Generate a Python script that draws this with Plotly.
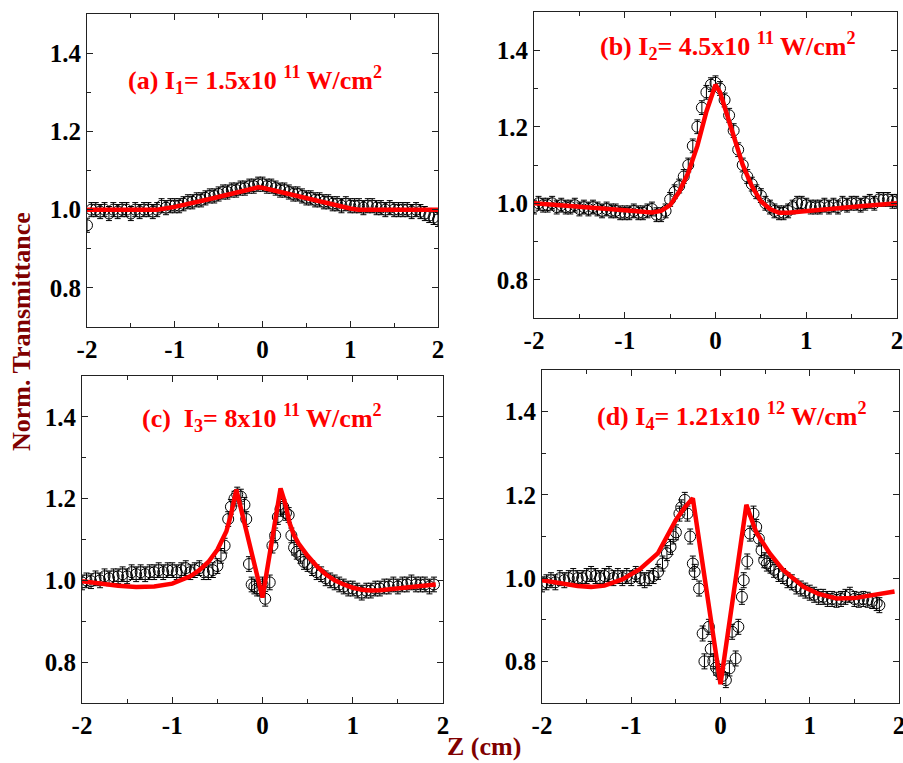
import plotly.graph_objects as go

# ---------------- data ----------------
# (a) I1 = 1.5e11 W/cm^2
za = [-2.00, -1.95, -1.90, -1.85, -1.80, -1.75, -1.70, -1.65, -1.60, -1.55, -1.50, -1.45, -1.40, -1.35, -1.30, -1.25,
      -1.20, -1.15, -1.10, -1.05, -1.00, -0.95, -0.90, -0.85, -0.80, -0.75, -0.70, -0.65, -0.60, -0.55, -0.50, -0.45,
      -0.40, -0.35, -0.30, -0.25, -0.20, -0.15, -0.10, -0.05, 0.00, 0.05, 0.10, 0.15, 0.20, 0.25, 0.30, 0.35,
      0.40, 0.45, 0.50, 0.55, 0.60, 0.65, 0.70, 0.75, 0.80, 0.85, 0.90, 0.95, 1.00, 1.05, 1.10, 1.15,
      1.20, 1.25, 1.30, 1.35, 1.40, 1.45, 1.50, 1.55, 1.60, 1.65, 1.70, 1.75, 1.80, 1.85, 1.90, 1.95, 2.00]
ta = [0.960, 1.000, 1.000, 0.995, 1.000, 0.990, 1.000, 0.995, 1.000, 1.000, 0.990, 1.000, 0.995, 1.000, 1.000, 0.995,
      1.000, 1.010, 1.005, 1.010, 1.010, 1.010, 1.015, 1.020, 1.020, 1.025, 1.025, 1.030, 1.035, 1.035, 1.040, 1.045,
      1.045, 1.050, 1.050, 1.055, 1.055, 1.060, 1.060, 1.065, 1.065, 1.060, 1.060, 1.055, 1.050, 1.050, 1.045, 1.040,
      1.040, 1.035, 1.030, 1.030, 1.025, 1.025, 1.020, 1.020, 1.015, 1.015, 1.010, 1.015, 1.010, 1.010, 1.010, 1.005,
      1.010, 1.010, 1.005, 1.005, 1.000, 1.005, 1.000, 1.000, 1.000, 1.000, 0.995, 1.000, 0.995, 0.990, 0.985, 0.980, 0.975]
fza = [-2.0, -1.5, -1.2, -1.0, -0.8, -0.6, -0.4, -0.2, -0.05, 0.0, 0.2, 0.4, 0.6, 0.8, 1.0, 1.1, 1.5, 2.0]
fta = [1.0, 1.0, 1.0, 1.007, 1.016, 1.027, 1.038, 1.050, 1.057, 1.056, 1.045, 1.034, 1.023, 1.013, 1.003, 1.0, 1.0, 1.0]

# (b) I2 = 4.5e11 W/cm^2
zb = za
tb = [0.990, 1.000, 0.995, 0.995, 1.000, 0.990, 0.995, 0.990, 0.990, 0.995, 0.985, 0.990, 0.985, 0.990, 0.985, 0.980,
      0.985, 0.980, 0.980, 0.975, 0.975, 0.975, 0.980, 0.975, 0.975, 0.980, 0.985, 0.970, 0.970, 0.980, 1.010, 1.030,
      1.045, 1.070, 1.100, 1.150, 1.200, 1.250, 1.290, 1.310, 1.315, 1.300, 1.270, 1.230, 1.190, 1.140, 1.100, 1.070,
      1.050, 1.030, 1.020, 1.000, 0.990, 0.980, 0.975, 0.975, 0.980, 0.990, 1.000, 1.000, 0.995, 0.990, 0.990, 0.990,
      0.995, 0.990, 0.995, 0.990, 1.000, 0.995, 1.000, 1.000, 0.995, 1.000, 1.005, 1.000, 1.010, 1.010, 1.010, 1.005, 1.005]
fzb = [-2.0, -1.5, -1.0, -0.7, -0.6, -0.5, -0.4, -0.3, -0.2, -0.1, 0.0, 0.05, 0.1, 0.2, 0.3, 0.4, 0.5, 0.6, 0.7, 0.8,
       1.0, 1.5, 2.0]
ftb = [1.0, 0.992, 0.982, 0.976, 0.980, 0.995, 1.030, 1.080, 1.150, 1.240, 1.310, 1.290, 1.250, 1.170, 1.100, 1.045,
       1.005, 0.985, 0.975, 0.975, 0.980, 0.990, 1.000]

# (c) I3 = 8e11 W/cm^2
zc = [-2.00, -1.95, -1.90, -1.85, -1.80, -1.75, -1.70, -1.65, -1.60, -1.55, -1.50, -1.45, -1.40, -1.35, -1.30, -1.25,
      -1.20, -1.15, -1.10, -1.05, -1.00, -0.95, -0.90, -0.85, -0.80, -0.75, -0.70, -0.65, -0.60, -0.55, -0.50, -0.46,
      -0.42, -0.38, -0.35, -0.31, -0.28, -0.24, -0.20, -0.18, -0.15, -0.12, -0.09, -0.06, -0.03, 0.00, 0.03, 0.08,
      0.11, 0.14, 0.17, 0.20, 0.23, 0.26, 0.29, 0.32, 0.35, 0.38, 0.42, 0.46, 0.50, 0.55, 0.60, 0.65,
      0.70, 0.75, 0.80, 0.85, 0.90, 0.95, 1.00, 1.05, 1.10, 1.15, 1.20, 1.25, 1.30, 1.35, 1.40, 1.45,
      1.50, 1.55, 1.60, 1.65, 1.70, 1.75, 1.80, 1.85, 1.90]
tc = [0.995, 1.000, 0.998, 1.005, 1.000, 1.010, 1.005, 1.010, 1.010, 1.015, 1.010, 1.020, 1.015, 1.020, 1.015, 1.020,
      1.020, 1.025, 1.020, 1.025, 1.025, 1.020, 1.025, 1.030, 1.020, 1.025, 1.030, 1.020, 1.020, 1.025, 1.035, 1.060,
      1.085, 1.150, 1.180, 1.200, 1.210, 1.205, 1.185, 1.150, 1.040, 0.990, 0.985, 0.980, 0.980, 0.990, 0.955, 0.995,
      1.085, 1.110, 1.155, 1.175, 1.180, 1.165, 1.160, 1.110, 1.080, 1.070, 1.060, 1.045, 1.040, 1.030, 1.020, 1.015,
      1.005, 1.000, 0.995, 0.990, 0.985, 0.980, 0.980, 0.975, 0.970, 0.975, 0.975, 0.980, 0.980, 0.985, 0.985, 0.990,
      0.985, 0.990, 0.990, 0.995, 0.990, 0.990, 0.990, 0.985, 0.990]
fzc = [-2.0, -1.8, -1.6, -1.4, -1.2, -1.0, -0.8, -0.7, -0.6, -0.5, -0.4, -0.35, -0.31, -0.29, 0.0, 0.2, 0.25, 0.3,
       0.35, 0.4, 0.5, 0.6, 0.7, 0.8, 0.9, 1.0, 1.1, 1.2, 1.3, 1.4, 1.5, 1.6, 1.7, 1.8, 1.92]
ftc = [0.998, 0.992, 0.987, 0.984, 0.985, 0.992, 1.010, 1.025, 1.045, 1.075, 1.120, 1.160, 1.205, 1.222, 0.958, 1.225,
       1.190, 1.140, 1.110, 1.090, 1.060, 1.035, 1.015, 1.000, 0.990, 0.982, 0.977, 0.975, 0.976, 0.978, 0.980, 0.982,
       0.985, 0.987, 0.990]

# (d) I4 = 1.21e12 W/cm^2
zd = [-2.00, -1.95, -1.90, -1.85, -1.80, -1.75, -1.70, -1.65, -1.60, -1.55, -1.50, -1.45, -1.40, -1.35, -1.30, -1.25,
      -1.20, -1.15, -1.10, -1.05, -1.00, -0.95, -0.90, -0.85, -0.80, -0.75, -0.70, -0.65, -0.60, -0.56, -0.53, -0.50,
      -0.46, -0.44, -0.40, -0.37, -0.34, -0.31, -0.29, -0.24, -0.20, -0.18, -0.13, -0.11, -0.08, -0.05, -0.02, 0.02,
      0.06, 0.10, 0.13, 0.17, 0.20, 0.24, 0.26, 0.30, 0.33, 0.37, 0.40, 0.43, 0.46, 0.49, 0.52, 0.56,
      0.60, 0.65, 0.70, 0.75, 0.80, 0.85, 0.90, 0.95, 1.00, 1.05, 1.10, 1.15, 1.20, 1.25, 1.30, 1.35,
      1.40, 1.45, 1.50, 1.55, 1.60, 1.65, 1.70, 1.75, 1.78]
td = [0.985, 0.990, 0.995, 0.990, 1.000, 0.995, 1.000, 1.005, 1.000, 1.000, 1.005, 1.010, 1.005, 1.000, 1.005, 1.010,
      1.000, 1.005, 1.000, 1.005, 1.000, 1.010, 1.000, 0.995, 1.000, 1.005, 1.015, 1.035, 1.060, 1.075, 1.100, 1.110,
      1.155, 1.170, 1.188, 1.155, 1.100, 1.035, 1.015, 0.975, 0.867, 0.800, 0.883, 0.830, 0.800, 0.785, 0.775, 0.765,
      0.755, 0.783, 0.871, 0.807, 0.883, 0.955, 0.995, 1.040, 1.107, 1.155, 1.123, 1.095, 1.067, 1.043, 1.035, 1.030,
      1.020, 1.010, 1.005, 0.995, 0.990, 0.980, 0.975, 0.970, 0.965, 0.960, 0.955, 0.955, 0.950, 0.950, 0.948, 0.950,
      0.955, 0.960, 0.950, 0.948, 0.950, 0.948, 0.945, 0.940, 0.935]
fzd = [-2.0, -1.8, -1.6, -1.45, -1.3, -1.1, -0.9, -0.7, -0.5, -0.4, -0.31, 0.0, 0.29, 0.4, 0.55, 0.7, 0.93, 1.1,
       1.3, 1.5, 1.7, 1.95]
ftd = [0.995, 0.987, 0.981, 0.979, 0.982, 0.997, 1.022, 1.060, 1.140, 1.170, 1.192, 0.745, 1.176, 1.110, 1.060, 1.020,
       0.979, 0.962, 0.951, 0.952, 0.958, 0.968]

err = 0.018
x_ticks = [-2, -1, 0, 1, 2]
x_text = ["-2", "-1", "0", "1", "2"]
y_ticks = [0.8, 1.0, 1.2, 1.4]
y_text = ["0.8", "1.0", "1.2", "1.4"]

panels = [
    (za, ta, fza, fta, "(a) I<sub>1</sub>= 1.5x10 <sup>11</sup> W/cm<sup>2</sup>"),
    (zb, tb, fzb, ftb, "(b) I<sub>2</sub>= 4.5x10 <sup>11</sup> W/cm<sup>2</sup>"),
    (zc, tc, fzc, ftc, "(c)  I<sub>3</sub>= 8x10 <sup>11</sup> W/cm<sup>2</sup>"),
    (zd, td, fzd, ftd, "(d) I<sub>4</sub>= 1.21x10 <sup>12</sup> W/cm<sup>2</sup>"),
]

# ---------------- layout geometry (pixels) ----------------
W, H = 903, 763
boxes = [  # left, right, top, bottom
    (87, 438, 14, 327),
    (534, 897, 12, 318),
    (82, 443, 376, 703),
    (542, 899, 370, 703),
]
title_pos = [(255, 80), (728, 46), (262, 418), (732, 416)]

FONT = "Liberation Serif, Times New Roman, serif"
fig = go.Figure()
layout = dict(
    template="none",
    width=W, height=H, margin=dict(l=0, r=0, t=0, b=0, pad=0),
    paper_bgcolor="white", plot_bgcolor="white", showlegend=False,
    font=dict(family=FONT, color="black", size=24),
)
annotations = []
for i, (z, t, fz, ft, title) in enumerate(panels):
    n = "" if i == 0 else str(i + 1)
    fig.add_trace(go.Scatter(
        x=z, y=t, mode="markers", xaxis="x" + n, yaxis="y" + n,
        marker=dict(symbol="circle-open", size=11, color="black", line=dict(width=1, color="black")),
        error_y=dict(type="constant", value=err, color="black", thickness=1, width=3),
    ))
    fig.add_trace(go.Scatter(
        x=fz, y=ft, mode="lines", xaxis="x" + n, yaxis="y" + n,
        line=dict(color="#ff0000", width=4.5),
    ))
    l, r, tp, bt = boxes[i]
    common = dict(showline=True, linecolor="#222222", linewidth=1.2, mirror="ticks",
                  ticks="inside", ticklen=6, tickwidth=1, tickcolor="#222222",
                  showgrid=False, zeroline=False, automargin=False, ticklabeloverflow="allow",
                  tickfont=dict(family=FONT, size=25, color="black"))
    layout["xaxis" + n] = dict(
        domain=[l / W, r / W], anchor="y" + n, range=[-2, 2],
        tickvals=x_ticks, ticktext=["<b>" + s + "</b>" for s in x_text],
        minor=dict(dtick=0.5, tick0=0, ticks="inside", ticklen=4, tickcolor="#222222"),
        **common)
    layout["yaxis" + n] = dict(
        domain=[1 - bt / H, 1 - tp / H], anchor="x" + n, range=[0.7, 1.5],
        tickvals=y_ticks, ticktext=["<b>" + s + "</b>" for s in y_text],
        minor=dict(dtick=0.1, tick0=0, ticks="inside", ticklen=4, tickcolor="#222222"),
        **common)
    tx, ty = title_pos[i]
    annotations.append(dict(
        text="<b>" + title + "</b>", x=tx / W, y=1 - ty / H, xref="paper", yref="paper",
        showarrow=False, xanchor="center", yanchor="middle",
        font=dict(family=FONT, size=26, color="#ff0000")))

annotations.append(dict(
    text="<b>Norm. Transmittance</b>", x=22 / W, y=1 - 332 / H, xref="paper", yref="paper",
    showarrow=False, textangle=-90, xanchor="center", yanchor="middle",
    font=dict(family=FONT, size=26, color="#800000")))
annotations.append(dict(
    text="<b>Z (cm)</b>", x=484 / W, y=0, xref="paper", yref="paper",
    showarrow=False, xanchor="center", yanchor="bottom",
    font=dict(family=FONT, size=26, color="#800000")))
layout["annotations"] = annotations
fig.update_layout(**layout)
fig.write_html("out.html", config={"displayModeBar": False},
               post_script="document.body.style.margin='0px';document.body.style.overflow='hidden';")
